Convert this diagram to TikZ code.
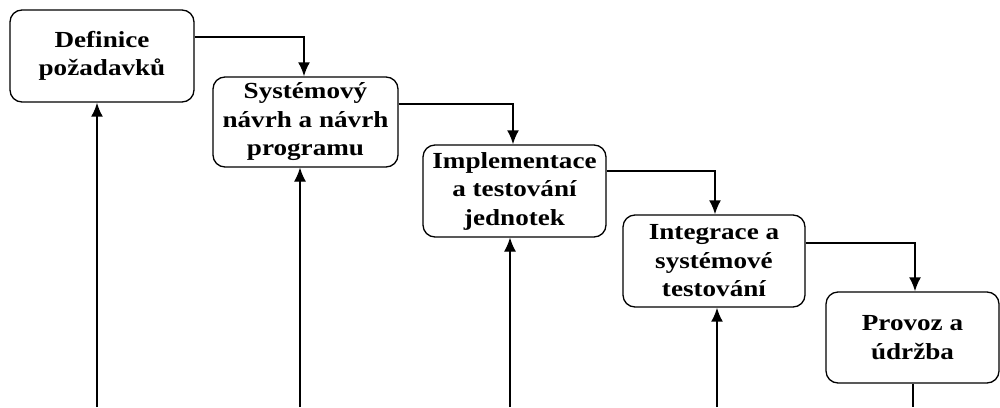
\documentclass[tikz,border=0pt]{standalone}
\usepackage{fontspec}
\setmainfont{Liberation Serif}
\newfontfamily\widefont[FakeStretch=1.18]{Liberation Serif}
\usetikzlibrary{positioning,arrows.meta}

\begin{document}
\begin{tikzpicture}[
  x=1pt,y=-1pt,
  phase/.style={draw,line width=1.3pt,rounded corners=12pt,align=center,
    inner sep=0pt,font=\widefont\fontsize{23}{28.5}\selectfont\bfseries},
  flow/.style={line width=2pt,-{Latex[length=14pt,width=12pt]}}
]
\useasboundingbox (0,0) rectangle (1000,407);
\node[phase,minimum width=184pt,minimum height=92pt] (def) at (102,56) {Definice\\po\v{z}adavk\r{u}};
\node[phase,minimum width=185pt,minimum height=90pt] (nav) at (305.5,122) {Syst\'emov\'y\\n\'avrh a n\'avrh\\programu};
\node[phase,minimum width=183pt,minimum height=92pt] (imp) at (514.5,191) {Implementace\\a testov\'an\'i\\jednotek};
\node[phase,minimum width=182pt,minimum height=92pt] (int) at (714,261) {Integrace a\\syst\'emov\'e\\testov\'an\'i};
\node[phase,minimum width=173pt,minimum height=91pt] (pro) at (912.5,337.5) {Provoz a\\\'udr\v{z}ba};
\coordinate (b1) at (97,407);
\coordinate (b2) at (300,407);
\coordinate (b3) at (510,407);
\coordinate (b4) at (717,407);
\coordinate (b5) at (913,407);
\draw[flow] ([yshift=19pt]def.east) -| ([xshift=-1.5pt]nav.north);
\draw[flow] ([yshift=18pt]nav.east) -| ([xshift=-1.5pt]imp.north);
\draw[flow] ([yshift=20pt]imp.east) -| ([xshift=1pt]int.north);
\draw[flow] ([yshift=18pt]int.east) -| ([xshift=2.5pt]pro.north);
\draw[flow] (b1) -- (b1 |- def.south);
\draw[flow,line width=1.3pt] (b2) -- (b2 |- nav.south);
\draw[flow,line width=1.3pt] (b3) -- (b3 |- imp.south);
\draw[flow] (b4) -- (b4 |- int.south);
\draw[line width=2pt] (pro.south -| b5) -- (b5);
\end{tikzpicture}
\end{document}
